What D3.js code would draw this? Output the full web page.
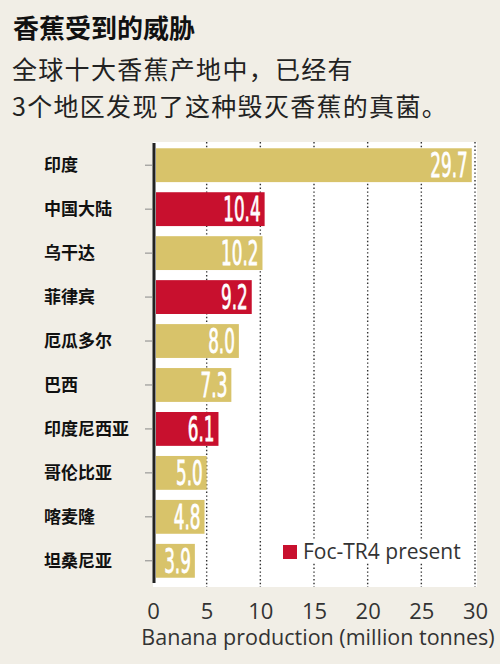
<!DOCTYPE html>
<html>
<head>
<meta charset="utf-8">
<script src="https://cdn.jsdelivr.net/npm/d3@7"></script>
<style>
  body { margin: 0; background: #f1eee6; }
  svg { display: block; }
</style>
</head>
<body>
<div id="chart"></div>
<script>
// data
const countries = ["印度", "中国大陆", "乌干达", "菲律宾", "厄瓜多尔", "巴西", "印度尼西亚", "哥伦比亚", "喀麦隆", "坦桑尼亚"];
const production = [29.7, 10.4, 10.2, 9.2, 8.0, 7.3, 6.1, 5.0, 4.8, 3.9];
const tr4Present = [false, true, false, true, false, false, true, false, false, false];
const xTicks = [0, 5, 10, 15, 20, 25, 30];

const width = 500, height = 664;
const cjk = "'Noto Sans CJK SC', 'Noto Sans', sans-serif";
const latin = "'Open Sans', 'DejaVu Sans', sans-serif";
const gold = "#d8c36a", red = "#c8102e";

const svg = d3.select("#chart").append("svg")
    .attr("width", width)
    .attr("height", height);

// titles
svg.append("text")
    .attr("x", 13).attr("y", 38)
    .style("font-family", cjk)
    .style("font-weight", "bold")
    .style("font-size", "26px")
    .attr("fill", "#111")
    .text("香蕉受到的威胁");

// subtitle, two lines
const sub = ["全球十大香蕉产地中，已经有", "3个地区发现了这种毁灭香蕉的真菌。"];
svg.selectAll(".sub")
    .data(sub)
    .enter().append("text")
    .attr("class", "sub")
    .attr("x", 12)
    .attr("y", (d, i) => 79 + i * 37)
    .style("font-family", cjk)
    .style("font-size", "25px")
    .style("letter-spacing", "1.3px")
    .attr("fill", "#222")
    .text(d => d);

// scales
const x = d3.scaleLinear().domain([0, 30]).range([153, 475]);
const y = d3.scaleBand().domain(countries).range([143, 583]).paddingInner(0.23).paddingOuter(0.12);

// white plot area
svg.append("rect")
    .attr("x", 153).attr("y", 142)
    .attr("width", 324).attr("height", 445)
    .attr("fill", "#fff");

// dotted gridlines
svg.selectAll(".grid")
    .data(xTicks.slice(1))
    .enter().append("line")
    .attr("class", "grid")
    .attr("x1", d => x(d)).attr("x2", d => x(d))
    .attr("y1", 142).attr("y2", 587)
    .attr("stroke", "#333")
    .attr("stroke-width", 1.4)
    .attr("stroke-dasharray", "1.4,2.4");

// legend box (covers gridlines)
const leg = svg.append("g").attr("transform", "translate(283,541)");
leg.append("rect").attr("x", -4).attr("y", -2).attr("width", 190).attr("height", 24).attr("fill", "#fff");
leg.append("rect").attr("x", 0).attr("y", 4).attr("width", 14).attr("height", 14).attr("fill", red);
leg.append("text")
    .attr("x", 20).attr("y", 18)
    .style("font-family", latin)
    .style("font-size", "21px")
    .attr("fill", "#333")
    .text("Foc-TR4 present");

// bars
svg.selectAll(".bar")
    .data(production)
    .enter().append("rect")
    .attr("class", "bar")
    .attr("x", x(0) + 3)
    .attr("y", (d, i) => y(countries[i]))
    .attr("width", d => x(d) - x(0) - 3)
    .attr("height", y.bandwidth())
    .attr("fill", (d, i) => tr4Present[i] ? red : gold);

// value labels (condensed)
svg.selectAll(".val")
    .data(production)
    .enter().append("text")
    .attr("class", "val")
    .attr("transform", (d, i) => "translate(" + (x(d) - 4) + "," + (y(countries[i]) + y.bandwidth() / 2 + 12) + ") scale(0.55,1)")
    .attr("text-anchor", "end")
    .style("font-family", "'Liberation Sans Narrow', 'DejaVu Sans Condensed', sans-serif")
    .style("font-size", "34px")
    .attr("fill", "#fff")
    .attr("stroke", "#fff")
    .attr("stroke-width", 0.8)
    .text(d => d.toFixed(1));

// y axis line
svg.append("line")
    .attr("x1", 154).attr("x2", 154)
    .attr("y1", 143).attr("y2", 583)
    .attr("stroke", "#222")
    .attr("stroke-width", 3);

// y ticks + labels
svg.selectAll(".ytick")
    .data(countries)
    .enter().append("line")
    .attr("class", "ytick")
    .attr("x1", 145).attr("x2", 152)
    .attr("y1", d => y(d) + y.bandwidth() / 2)
    .attr("y2", d => y(d) + y.bandwidth() / 2)
    .attr("stroke", "#888")
    .attr("stroke-width", 1);

svg.selectAll(".ylab")
    .data(countries)
    .enter().append("text")
    .attr("class", "ylab")
    .attr("x", 44)
    .attr("y", d => y(d) + y.bandwidth() / 2 + 6)
    .style("font-family", cjk)
    .style("font-weight", "bold")
    .style("font-size", "17px")
    .attr("fill", "#111")
    .text(d => d);

// x axis labels
const xAxis = d3.axisBottom(x).tickValues(xTicks).tickSize(0).tickPadding(0);
const gx = svg.append("g")
    .attr("transform", "translate(0,603)")
    .call(xAxis);
gx.select(".domain").remove();
gx.selectAll("text")
    .style("font-family", latin)
    .style("font-size", "22px")
    .attr("fill", "#333");

svg.append("text")
    .attr("x", 318).attr("y", 645)
    .attr("text-anchor", "middle")
    .style("font-family", latin)
    .style("font-size", "21.5px")
    .attr("fill", "#333")
    .text("Banana production (million tonnes)");
</script>
</body>
</html>
